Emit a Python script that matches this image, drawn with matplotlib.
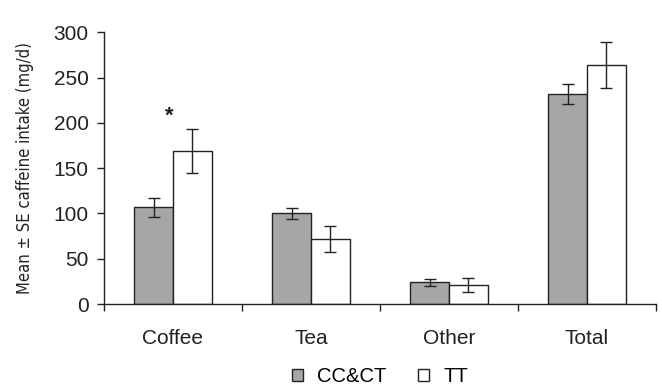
import matplotlib
matplotlib.use("Agg")
import matplotlib.pyplot as plt
from matplotlib import font_manager
from matplotlib.font_manager import FontProperties
from matplotlib.patches import Patch
import numpy as np

plt.rcParams['font.family'] = ['Liberation Sans', 'DejaVu Sans']

categories = ["Coffee", "Tea", "Other", "Total"]
groups = ["CC&CT", "TT"]
cc_ct_mean = [107, 100, 24, 232]
cc_ct_se = [10.5, 6.5, 3.7, 11]
tt_mean = [169, 72, 21, 264]
tt_se = [24, 14, 8, 25]
y_ticks = [0, 50, 100, 150, 200, 250, 300]
y_title = "Mean \u00b1 SE caffeine intake (mg/d)"


def narrow_font():
    """Prefer a condensed sans face for the y-axis title, if one is installed."""
    best = None
    for f in font_manager.fontManager.ttflist:
        name = f.name.lower()
        narrow = ("narrow" in name or "condensed" in name
                  or f.stretch in ("condensed", "semi-condensed"))
        if not narrow or f.style != "normal":
            continue
        if f.weight not in (400, "normal", "regular"):
            continue
        if "mono" in name or "serif" in name and "sans" not in name:
            continue
        rank = 0 if "sans" in name or "roboto" in name or "narrow" in name else 1
        if best is None or rank < best[0]:
            best = (rank, f.fname)
    if best is None:
        return FontProperties(family="Liberation Sans")
    return FontProperties(fname=best[1])


fig = plt.figure(figsize=(6.62, 3.91), dpi=100)
ax = fig.add_axes([0.157, 0.2225, 0.834, 0.6945])

x = np.arange(len(categories))
w = 0.28
ekw = dict(ecolor="#222222", elinewidth=1.0, capsize=4, capthick=1.0)
ax.bar(x - w / 2, cc_ct_mean, w, yerr=cc_ct_se, color="#a6a6a6",
       edgecolor="#222222", linewidth=1.0, error_kw=ekw, zorder=2)
ax.bar(x + w / 2, tt_mean, w, yerr=tt_se, color="white",
       edgecolor="#222222", linewidth=1.0, error_kw=ekw, zorder=2)

ax.text(x[0] - 0.03, 207, "*", ha="center", va="center", fontsize=16,
        fontweight="bold", color="#222222")

ax.set_xlim(-0.5, len(categories) - 0.5)
ax.set_ylim(0, 300)
ax.set_yticks(y_ticks)
ax.set_xticks(x)
ax.set_xticklabels(categories)
ax.set_xticks(np.arange(len(categories) + 1) - 0.5, minor=True)
ax.tick_params(axis="x", which="major", length=0, pad=18, labelsize=15,
               colors="#222222")
ax.tick_params(axis="x", which="minor", length=5, direction="out",
               color="#222222", width=1.0)
ax.tick_params(axis="y", length=5, direction="out", labelsize=15, pad=6,
               colors="#222222", width=1.0)

for s in ("top", "right"):
    ax.spines[s].set_visible(False)
for s in ("left", "bottom"):
    ax.spines[s].set_color("#222222")
    ax.spines[s].set_linewidth(1.0)

# y-axis title: condensed face, sized so it spans ~252 px of the axis height
fp = narrow_font()
fp.set_size(15)
ylab = ax.set_ylabel(y_title, fontproperties=fp, color="#222222")
ax.yaxis.set_label_coords(-0.127, 0.5)
renderer = fig.canvas.get_renderer()
span = ylab.get_window_extent(renderer).height
fp.set_size(min(15, 15 * 252.0 / span))
ylab.set_fontproperties(fp)

handles = [Patch(facecolor="#a6a6a6", edgecolor="#222222", linewidth=1.0),
           Patch(facecolor="white", edgecolor="#222222", linewidth=1.0)]
fig.legend(handles, groups, loc="center", bbox_to_anchor=(0.574, 0.036),
           ncol=2, frameon=False, fontsize=14.5, handlelength=0.55,
           handleheight=0.55, handletextpad=0.7, columnspacing=1.6)

fig.savefig("out.png", dpi=100)
